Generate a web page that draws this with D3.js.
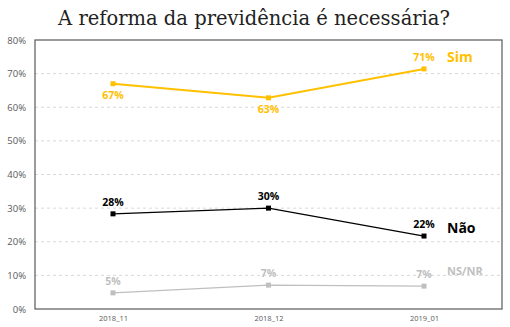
<!DOCTYPE html>
<html>
<head>
<meta charset="utf-8">
<script src="https://cdn.jsdelivr.net/npm/d3@7"></script>
<style>
body { margin: 0; background: #fff; }
</style>
</head>
<body>
<div id="chart"></div>
<script>
// data
var periods = ["2018_11", "2018_12", "2019_01"];
var simValues = [67.0, 62.8, 71.4];
var naoValues = [28.3, 30.0, 21.7];
var nsnrValues = [4.8, 7.1, 6.8];
var simLabels = ["67%", "63%", "71%"];
var naoLabels = ["28%", "30%", "22%"];
var nsnrLabels = ["5%", "7%", "7%"];
var yTicks = [0, 10, 20, 30, 40, 50, 60, 70, 80];

var series = [
    {name: "Sim", values: simValues, labels: simLabels, color: "#FFC000", width: 2, labelPos: ["below", "below", "above"], legendY: 74.8, legendSize: 14, weight: "bold"},
    {name: "Não", values: naoValues, labels: naoLabels, color: "#000000", width: 1.3, labelPos: ["above", "above", "above"], legendY: 24.1, legendSize: 14, weight: "bold"},
    {name: "NS/NR", values: nsnrValues, labels: nsnrLabels, color: "#BFBFBF", width: 1.3, labelPos: ["above", "above", "above"], legendY: 11.3, legendSize: 11, weight: "bold"}
];

var W = 510, H = 327;
var margin = {top: 40, right: 8, bottom: 18, left: 35};

var svg = d3.select("#chart").append("svg")
    .attr("width", W)
    .attr("height", H);

var x = d3.scalePoint()
    .domain(periods)
    .range([113, 424]);

var y = d3.scaleLinear()
    .domain([0, 80])
    .range([H - margin.bottom, margin.top]);

// title
svg.append("text")
    .attr("x", 254)
    .attr("y", 25)
    .attr("text-anchor", "middle")
    .attr("font-family", "'DejaVu Serif', serif")
    .attr("font-size", 19.5)
    .attr("fill", "#222")
    .text("A reforma da previdência é necessária?");

// gridlines
svg.selectAll(".grid")
    .data(yTicks.filter(function (d) { return d > 0 && d < 80; }))
    .enter().append("line")
    .attr("x1", margin.left)
    .attr("x2", W - margin.right)
    .attr("y1", function (d) { return y(d); })
    .attr("y2", function (d) { return y(d); })
    .attr("stroke", "#d9d9d9")
    .attr("stroke-width", 1)
    .attr("stroke-dasharray", "3,3");

// plot box
svg.append("rect")
    .attr("x", margin.left)
    .attr("y", margin.top)
    .attr("width", W - margin.right - margin.left)
    .attr("height", H - margin.bottom - margin.top)
    .attr("fill", "none")
    .attr("stroke", "#595959")
    .attr("stroke-width", 1.2);

// y axis labels
var yAxis = d3.axisLeft(y)
    .tickValues(yTicks)
    .tickSize(0)
    .tickPadding(9)
    .tickFormat(function (d) { return d + "%"; });

svg.append("g")
    .attr("transform", "translate(" + margin.left + ",0)")
    .call(yAxis)
    .call(function (g) { g.select(".domain").remove(); })
    .selectAll("text")
    .attr("font-family", "'Open Sans', sans-serif")
    .attr("font-size", 9.5)
    .attr("fill", "#595959");

// x axis labels
var xAxis = d3.axisBottom(x)
    .tickSize(0)
    .tickPadding(7);

svg.append("g")
    .attr("transform", "translate(0," + (H - margin.bottom) + ")")
    .call(xAxis)
    .call(function (g) { g.select(".domain").remove(); })
    .selectAll("text")
    .attr("font-family", "'Open Sans', sans-serif")
    .attr("font-size", 7.5)
    .attr("fill", "#595959");

var line = d3.line()
    .x(function (d, i) { return x(periods[i]); })
    .y(function (d) { return y(d); });

series.forEach(function (s) {
    var g = svg.append("g");

    g.append("path")
        .datum(s.values)
        .attr("d", line)
        .attr("fill", "none")
        .attr("stroke", s.color)
        .attr("stroke-width", s.width);

    g.selectAll("rect")
        .data(s.values)
        .enter().append("rect")
        .attr("x", function (d, i) { return x(periods[i]) - 2.5; })
        .attr("y", function (d) { return y(d) - 2.5; })
        .attr("width", 5)
        .attr("height", 5)
        .attr("fill", s.color);

    g.selectAll(".val")
        .data(s.values)
        .enter().append("text")
        .attr("class", "val")
        .attr("x", function (d, i) { return x(periods[i]); })
        .attr("y", function (d, i) { return s.labelPos[i] == "above" ? y(d) - 8 : y(d) + 15; })
        .attr("text-anchor", "middle")
        .attr("font-family", "'Open Sans', sans-serif")
        .attr("font-size", 10.5)
        .attr("font-weight", "bold")
        .attr("fill", s.color)
        .text(function (d, i) { return s.labels[i]; });

    // series name on the right
    g.append("text")
        .attr("x", 447)
        .attr("y", y(s.legendY))
        .attr("dy", "0.35em")
        .attr("font-family", "'Open Sans', sans-serif")
        .attr("font-size", s.legendSize)
        .attr("font-weight", s.weight)
        .attr("fill", s.color)
        .text(s.name);
});
</script>
</body>
</html>
